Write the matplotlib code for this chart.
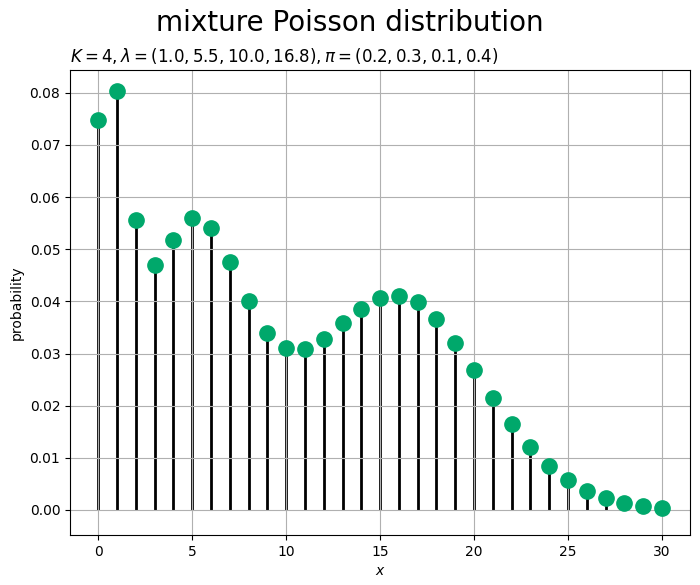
import numpy as np
import matplotlib
matplotlib.use("Agg")
import matplotlib.pyplot as plt

# values
x_vals = np.arange(0, 31)
probs = [0.0748, 0.0803, 0.0556, 0.0470, 0.0518, 0.0560, 0.0541, 0.0476,
         0.0400, 0.0340, 0.0311, 0.0309, 0.0328, 0.0358, 0.0386, 0.0407,
         0.0411, 0.0398, 0.0367, 0.0321, 0.0269, 0.0214, 0.0164, 0.0120,
         0.0084, 0.0057, 0.0036, 0.0023, 0.0013, 0.0007, 0.0004]

title = r"$K=4, \lambda=(1.0, 5.5, 10.0, 16.8), \pi=(0.2, 0.3, 0.1, 0.4)$"

fig = plt.figure(figsize=(7, 5.85), dpi=100)
ax = fig.add_axes([0.1, 0.0855, 0.886, 0.795])

ax.vlines(x_vals, 0, probs, color='black', linewidth=2, zorder=1)
ax.plot(x_vals, probs, 'o', color='#00A86B', markersize=11, zorder=3)
ax.grid(True)
ax.set_ylim(-0.0048, 0.0844)

ax.set_xlabel('$x$')
ax.set_ylabel('probability')
ax.set_title(title, loc='left', fontsize=12)
fig.suptitle('mixture Poisson distribution', fontsize=20, y=0.985)

fig.savefig('out.png', dpi=100)
